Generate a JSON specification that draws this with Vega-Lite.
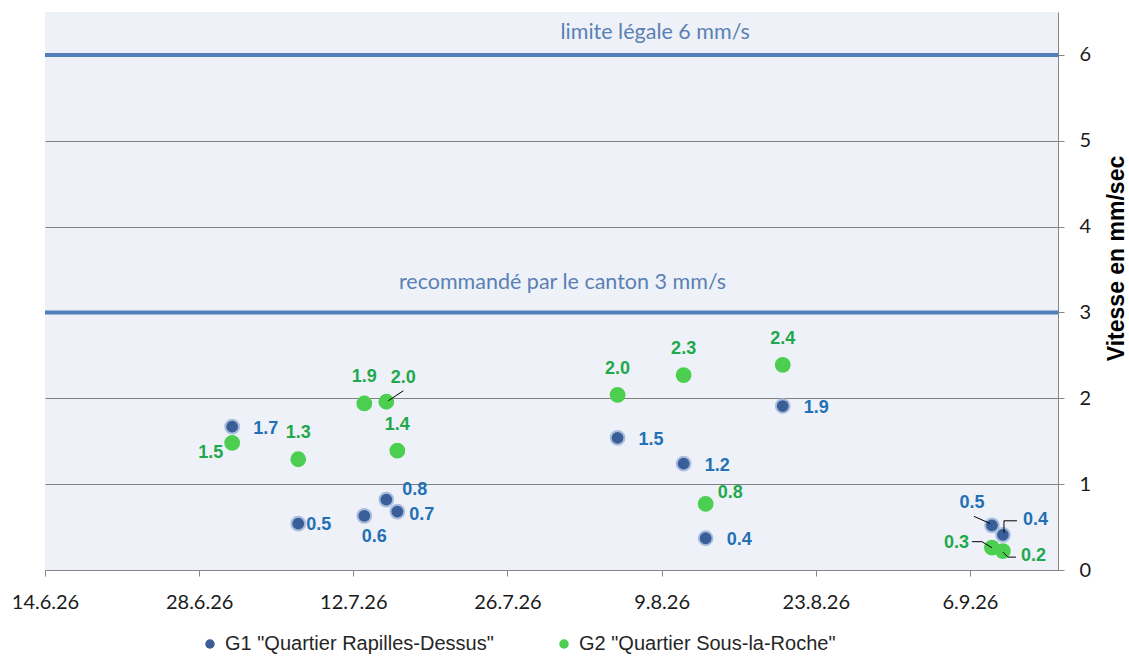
{
  "$schema": "https://vega.github.io/schema/vega-lite/v6.json",
  "width": 1013,
  "height": 558,
  "autosize": "none",
  "padding": {"left": 45, "top": 12, "right": 71, "bottom": 98},
  "background": "white",
  "config": {
    "view": {"fill": "#EEF2F8", "stroke": null},
    "axis": {"labelFont": "Lato", "labelFontSize": 20, "labelColor": "#1A1A1A", "domainColor": "#868686", "tickColor": "#868686"}
  },
  "datasets": {
    "points": [
      {"date": "2026-07-01", "series": "G1 \"Quartier Rapilles-Dessus\"", "g": "G1", "value": 1.67},
      {"date": "2026-07-07", "series": "G1 \"Quartier Rapilles-Dessus\"", "g": "G1", "value": 0.54},
      {"date": "2026-07-13", "series": "G1 \"Quartier Rapilles-Dessus\"", "g": "G1", "value": 0.63},
      {"date": "2026-07-15", "series": "G1 \"Quartier Rapilles-Dessus\"", "g": "G1", "value": 0.82},
      {"date": "2026-07-16", "series": "G1 \"Quartier Rapilles-Dessus\"", "g": "G1", "value": 0.68},
      {"date": "2026-08-05", "series": "G1 \"Quartier Rapilles-Dessus\"", "g": "G1", "value": 1.54},
      {"date": "2026-08-11", "series": "G1 \"Quartier Rapilles-Dessus\"", "g": "G1", "value": 1.24},
      {"date": "2026-08-13", "series": "G1 \"Quartier Rapilles-Dessus\"", "g": "G1", "value": 0.37},
      {"date": "2026-08-20", "series": "G1 \"Quartier Rapilles-Dessus\"", "g": "G1", "value": 1.91},
      {"date": "2026-09-08", "series": "G1 \"Quartier Rapilles-Dessus\"", "g": "G1", "value": 0.52},
      {"date": "2026-09-09", "series": "G1 \"Quartier Rapilles-Dessus\"", "g": "G1", "value": 0.41},
      {"date": "2026-07-01", "series": "G2 \"Quartier Sous-la-Roche\"", "g": "G2", "value": 1.48},
      {"date": "2026-07-07", "series": "G2 \"Quartier Sous-la-Roche\"", "g": "G2", "value": 1.29},
      {"date": "2026-07-13", "series": "G2 \"Quartier Sous-la-Roche\"", "g": "G2", "value": 1.94},
      {"date": "2026-07-15", "series": "G2 \"Quartier Sous-la-Roche\"", "g": "G2", "value": 1.96},
      {"date": "2026-07-16", "series": "G2 \"Quartier Sous-la-Roche\"", "g": "G2", "value": 1.39},
      {"date": "2026-08-05", "series": "G2 \"Quartier Sous-la-Roche\"", "g": "G2", "value": 2.04},
      {"date": "2026-08-11", "series": "G2 \"Quartier Sous-la-Roche\"", "g": "G2", "value": 2.27},
      {"date": "2026-08-13", "series": "G2 \"Quartier Sous-la-Roche\"", "g": "G2", "value": 0.77},
      {"date": "2026-08-20", "series": "G2 \"Quartier Sous-la-Roche\"", "g": "G2", "value": 2.39},
      {"date": "2026-09-08", "series": "G2 \"Quartier Sous-la-Roche\"", "g": "G2", "value": 0.26},
      {"date": "2026-09-09", "series": "G2 \"Quartier Sous-la-Roche\"", "g": "G2", "value": 0.22}
    ],
    "refs": [
      {"value": 6, "label": "limite légale 6 mm/s"},
      {"value": 3, "label": "recommandé par le canton 3 mm/s"}
    ]
  },
  "layer": [
    {
      "data": {"name": "refs"},
      "mark": {"type": "rule", "color": "#4F7FBC", "strokeWidth": 4},
      "encoding": {"y": {"field": "value", "type": "quantitative"}}
    },
    {
      "data": {"name": "refs"},
      "transform": [{"filter": "datum.value == 6"}],
      "mark": {"type": "text", "font": "Lato", "fontSize": 21.5, "color": "#5A80B4", "dy": -22},
      "encoding": {
        "x": {"datum": {"year": 2026, "month": 8, "date": 8, "hours": 10, "utc": true}, "type": "temporal"},
        "y": {"field": "value", "type": "quantitative"},
        "text": {"field": "label"}
      }
    },
    {
      "data": {"name": "refs"},
      "transform": [{"filter": "datum.value == 3"}],
      "mark": {"type": "text", "font": "Lato", "fontSize": 21.5, "color": "#5A80B4", "dy": -29},
      "encoding": {
        "x": {"datum": {"year": 2026, "month": 7, "date": 31, "utc": true}, "type": "temporal"},
        "y": {"field": "value", "type": "quantitative"},
        "text": {"field": "label"}
      }
    },
    {
      "data": {"name": "points"},
      "mark": {"type": "point", "shape": "circle", "filled": true, "opacity": 1, "size": 190, "strokeWidth": 2},
      "encoding": {
        "x": {
          "field": "date", "type": "temporal",
          "scale": {"type": "utc", "domain": [{"year": 2026, "month": 6, "date": 14, "utc": true}, {"year": 2026, "month": 9, "date": 14, "utc": true}]},
          "axis": {
            "title": null, "grid": false, "tickSize": 6, "labelPadding": 16, "labelFlush": false, "labelOverlap": false,
            "values": [
              {"year": 2026, "month": 6, "date": 14, "utc": true},
              {"year": 2026, "month": 6, "date": 28, "utc": true},
              {"year": 2026, "month": 7, "date": 12, "utc": true},
              {"year": 2026, "month": 7, "date": 26, "utc": true},
              {"year": 2026, "month": 8, "date": 9, "utc": true},
              {"year": 2026, "month": 8, "date": 23, "utc": true},
              {"year": 2026, "month": 9, "date": 6, "utc": true}
            ],
            "labelExpr": "utcFormat(datum.value, '%-d.%-m.%y')"
          }
        },
        "y": {
          "field": "value", "type": "quantitative",
          "scale": {"domain": [0, 6.5], "nice": false},
          "axis": {
            "orient": "right", "values": [0, 1, 2, 3, 4, 5, 6], "format": "d", "grid": true, "gridColor": "#808080", "gridWidth": 1,
            "tickSize": 6, "labelPadding": 15, "labelFlush": false,
            "title": "Vitesse en mm/sec", "titleFont": "Liberation Sans", "titleFontWeight": "bold", "titleFontSize": 23,
            "titleColor": "#000000", "titleAngle": 270, "titleX": 58, "titleY": 246, "titleAlign": "center", "titleBaseline": "middle"
          }
        },
        "fill": {
          "field": "series", "type": "nominal",
          "scale": {"domain": ["G1 \"Quartier Rapilles-Dessus\"", "G2 \"Quartier Sous-la-Roche\""], "range": ["#3A5E97", "#4CCF50"]},
          "legend": {
            "orient": "none", "legendX": 155, "legendY": 622, "direction": "horizontal", "title": null,
            "symbolType": "circle", "symbolSize": 90, "symbolStrokeWidth": 0, "labelLimit": 0,
            "labelFont": "Liberation Sans", "labelFontSize": 20, "labelColor": "#262626", "columnPadding": 60, "labelOffset": 5
          }
        },
        "stroke": {
          "field": "series", "type": "nominal",
          "scale": {"domain": ["G1 \"Quartier Rapilles-Dessus\"", "G2 \"Quartier Sous-la-Roche\""], "range": ["#A9BDDF", "#4CCF50"]},
          "legend": null
        }
      }
    },
    {
      "data": {"name": "points"},
      "transform": [{"filter": "datum.g == 'G1' && indexof(['2026-07-01','2026-08-05','2026-08-11','2026-08-13','2026-08-20'], utcFormat(toDate(datum.date), '%Y-%m-%d')) >= 0"}],
      "mark": {"type": "text", "align": "left", "baseline": "middle", "dx": 21, "dy": 2, "font": "Liberation Sans", "fontWeight": "bold", "fontSize": 18, "color": "#2370B5"},
      "encoding": {"x": {"field": "date", "type": "temporal"}, "y": {"field": "value", "type": "quantitative"}, "text": {"field": "value", "format": ".1f"}}
    },
    {
      "data": {"name": "points"},
      "transform": [{"filter": "datum.g == 'G1' && utcFormat(toDate(datum.date), '%Y-%m-%d') == '2026-07-07'"}],
      "mark": {"type": "text", "align": "left", "baseline": "middle", "dx": 8, "dy": 1, "font": "Liberation Sans", "fontWeight": "bold", "fontSize": 18, "color": "#2370B5"},
      "encoding": {"x": {"field": "date", "type": "temporal"}, "y": {"field": "value", "type": "quantitative"}, "text": {"field": "value", "format": ".1f"}}
    },
    {
      "data": {"name": "points"},
      "transform": [{"filter": "datum.g == 'G1' && utcFormat(toDate(datum.date), '%Y-%m-%d') == '2026-07-13'"}],
      "mark": {"type": "text", "align": "center", "baseline": "middle", "dx": 10, "dy": 21, "font": "Liberation Sans", "fontWeight": "bold", "fontSize": 18, "color": "#2370B5"},
      "encoding": {"x": {"field": "date", "type": "temporal"}, "y": {"field": "value", "type": "quantitative"}, "text": {"field": "value", "format": ".1f"}}
    },
    {
      "data": {"name": "points"},
      "transform": [{"filter": "datum.g == 'G1' && utcFormat(toDate(datum.date), '%Y-%m-%d') == '2026-07-15'"}],
      "mark": {"type": "text", "align": "left", "baseline": "middle", "dx": 16, "dy": -10, "font": "Liberation Sans", "fontWeight": "bold", "fontSize": 18, "color": "#2370B5"},
      "encoding": {"x": {"field": "date", "type": "temporal"}, "y": {"field": "value", "type": "quantitative"}, "text": {"field": "value", "format": ".1f"}}
    },
    {
      "data": {"name": "points"},
      "transform": [{"filter": "datum.g == 'G1' && utcFormat(toDate(datum.date), '%Y-%m-%d') == '2026-07-16'"}],
      "mark": {"type": "text", "align": "left", "baseline": "middle", "dx": 12, "dy": 3, "font": "Liberation Sans", "fontWeight": "bold", "fontSize": 18, "color": "#2370B5"},
      "encoding": {"x": {"field": "date", "type": "temporal"}, "y": {"field": "value", "type": "quantitative"}, "text": {"field": "value", "format": ".1f"}}
    },
    {
      "data": {"name": "points"},
      "transform": [{"filter": "datum.g == 'G1' && utcFormat(toDate(datum.date), '%Y-%m-%d') == '2026-09-08'"}],
      "mark": {"type": "text", "align": "center", "baseline": "middle", "dx": -20, "dy": -22, "font": "Liberation Sans", "fontWeight": "bold", "fontSize": 18, "color": "#2370B5"},
      "encoding": {"x": {"field": "date", "type": "temporal"}, "y": {"field": "value", "type": "quantitative"}, "text": {"field": "value", "format": ".1f"}}
    },
    {
      "data": {"name": "points"},
      "transform": [{"filter": "datum.g == 'G1' && utcFormat(toDate(datum.date), '%Y-%m-%d') == '2026-09-09'"}],
      "mark": {"type": "text", "align": "left", "baseline": "middle", "dx": 20, "dy": -15, "font": "Liberation Sans", "fontWeight": "bold", "fontSize": 18, "color": "#2370B5"},
      "encoding": {"x": {"field": "date", "type": "temporal"}, "y": {"field": "value", "type": "quantitative"}, "text": {"field": "value", "format": ".1f"}}
    },
    {
      "data": {"name": "points"},
      "transform": [{"filter": "datum.g == 'G2' && indexof(['2026-07-07','2026-07-13','2026-07-16','2026-08-05','2026-08-11','2026-08-20'], utcFormat(toDate(datum.date), '%Y-%m-%d')) >= 0"}],
      "mark": {"type": "text", "align": "center", "baseline": "middle", "dy": -26, "font": "Liberation Sans", "fontWeight": "bold", "fontSize": 18, "color": "#22A84C"},
      "encoding": {"x": {"field": "date", "type": "temporal"}, "y": {"field": "value", "type": "quantitative"}, "text": {"field": "value", "format": ".1f"}}
    },
    {
      "data": {"name": "points"},
      "transform": [{"filter": "datum.g == 'G2' && utcFormat(toDate(datum.date), '%Y-%m-%d') == '2026-07-01'"}],
      "mark": {"type": "text", "align": "right", "baseline": "middle", "dx": -9, "dy": 10, "font": "Liberation Sans", "fontWeight": "bold", "fontSize": 18, "color": "#22A84C"},
      "encoding": {"x": {"field": "date", "type": "temporal"}, "y": {"field": "value", "type": "quantitative"}, "text": {"field": "value", "format": ".1f"}}
    },
    {
      "data": {"name": "points"},
      "transform": [{"filter": "datum.g == 'G2' && utcFormat(toDate(datum.date), '%Y-%m-%d') == '2026-07-15'"}],
      "mark": {"type": "text", "align": "center", "baseline": "middle", "dx": 17, "dy": -24, "font": "Liberation Sans", "fontWeight": "bold", "fontSize": 18, "color": "#22A84C"},
      "encoding": {"x": {"field": "date", "type": "temporal"}, "y": {"field": "value", "type": "quantitative"}, "text": {"field": "value", "format": ".1f"}}
    },
    {
      "data": {"name": "points"},
      "transform": [{"filter": "datum.g == 'G2' && utcFormat(toDate(datum.date), '%Y-%m-%d') == '2026-08-13'"}],
      "mark": {"type": "text", "align": "left", "baseline": "middle", "dx": 12, "dy": -11, "font": "Liberation Sans", "fontWeight": "bold", "fontSize": 18, "color": "#22A84C"},
      "encoding": {"x": {"field": "date", "type": "temporal"}, "y": {"field": "value", "type": "quantitative"}, "text": {"field": "value", "format": ".1f"}}
    },
    {
      "data": {"name": "points"},
      "transform": [{"filter": "datum.g == 'G2' && utcFormat(toDate(datum.date), '%Y-%m-%d') == '2026-09-08'"}],
      "mark": {"type": "text", "align": "right", "baseline": "middle", "dx": -23, "dy": -5, "font": "Liberation Sans", "fontWeight": "bold", "fontSize": 18, "color": "#22A84C"},
      "encoding": {"x": {"field": "date", "type": "temporal"}, "y": {"field": "value", "type": "quantitative"}, "text": {"field": "value", "format": ".1f"}}
    },
    {
      "data": {"name": "points"},
      "transform": [{"filter": "datum.g == 'G2' && utcFormat(toDate(datum.date), '%Y-%m-%d') == '2026-09-09'"}],
      "mark": {"type": "text", "align": "left", "baseline": "middle", "dx": 18, "dy": 5, "font": "Liberation Sans", "fontWeight": "bold", "fontSize": 18, "color": "#22A84C"},
      "encoding": {"x": {"field": "date", "type": "temporal"}, "y": {"field": "value", "type": "quantitative"}, "text": {"field": "value", "format": ".1f"}}
    },
    {
      "data": {"name": "points"},
      "transform": [{"filter": "datum.g == 'G2' && utcFormat(toDate(datum.date), '%Y-%m-%d') == '2026-07-15'"}],
      "mark": {"type": "rule", "color": "#000000", "strokeWidth": 1, "xOffset": 2, "yOffset": -1, "x2Offset": 17, "y2Offset": -11},
      "encoding": {"x": {"field": "date", "type": "temporal"}, "x2": {"field": "date"}, "y": {"field": "value", "type": "quantitative"}, "y2": {"field": "value"}}
    },
    {
      "data": {"name": "points"},
      "transform": [{"filter": "datum.g == 'G1' && utcFormat(toDate(datum.date), '%Y-%m-%d') == '2026-09-08'"}],
      "mark": {"type": "rule", "color": "#000000", "strokeWidth": 1, "xOffset": -2, "yOffset": -2, "x2Offset": -18, "y2Offset": -9},
      "encoding": {"x": {"field": "date", "type": "temporal"}, "x2": {"field": "date"}, "y": {"field": "value", "type": "quantitative"}, "y2": {"field": "value"}}
    },
    {
      "data": {"name": "points"},
      "transform": [{"filter": "datum.g == 'G1' && utcFormat(toDate(datum.date), '%Y-%m-%d') == '2026-09-09'"}],
      "mark": {"type": "rule", "color": "#000000", "strokeWidth": 1, "xOffset": 1, "yOffset": -2, "x2Offset": 1, "y2Offset": -14},
      "encoding": {"x": {"field": "date", "type": "temporal"}, "x2": {"field": "date"}, "y": {"field": "value", "type": "quantitative"}, "y2": {"field": "value"}}
    },
    {
      "data": {"name": "points"},
      "transform": [{"filter": "datum.g == 'G1' && utcFormat(toDate(datum.date), '%Y-%m-%d') == '2026-09-09'"}],
      "mark": {"type": "rule", "color": "#000000", "strokeWidth": 1, "xOffset": 1, "yOffset": -14, "x2Offset": 14, "y2Offset": -14},
      "encoding": {"x": {"field": "date", "type": "temporal"}, "x2": {"field": "date"}, "y": {"field": "value", "type": "quantitative"}, "y2": {"field": "value"}}
    },
    {
      "data": {"name": "points"},
      "transform": [{"filter": "datum.g == 'G2' && utcFormat(toDate(datum.date), '%Y-%m-%d') == '2026-09-08'"}],
      "mark": {"type": "rule", "color": "#000000", "strokeWidth": 1, "xOffset": 0, "yOffset": 0, "x2Offset": -10, "y2Offset": -6},
      "encoding": {"x": {"field": "date", "type": "temporal"}, "x2": {"field": "date"}, "y": {"field": "value", "type": "quantitative"}, "y2": {"field": "value"}}
    },
    {
      "data": {"name": "points"},
      "transform": [{"filter": "datum.g == 'G2' && utcFormat(toDate(datum.date), '%Y-%m-%d') == '2026-09-08'"}],
      "mark": {"type": "rule", "color": "#000000", "strokeWidth": 1, "xOffset": -10, "yOffset": -6, "x2Offset": -20, "y2Offset": -6},
      "encoding": {"x": {"field": "date", "type": "temporal"}, "x2": {"field": "date"}, "y": {"field": "value", "type": "quantitative"}, "y2": {"field": "value"}}
    },
    {
      "data": {"name": "points"},
      "transform": [{"filter": "datum.g == 'G2' && utcFormat(toDate(datum.date), '%Y-%m-%d') == '2026-09-09'"}],
      "mark": {"type": "rule", "color": "#000000", "strokeWidth": 1, "xOffset": 0, "yOffset": 1, "x2Offset": 5, "y2Offset": 6},
      "encoding": {"x": {"field": "date", "type": "temporal"}, "x2": {"field": "date"}, "y": {"field": "value", "type": "quantitative"}, "y2": {"field": "value"}}
    },
    {
      "data": {"name": "points"},
      "transform": [{"filter": "datum.g == 'G2' && utcFormat(toDate(datum.date), '%Y-%m-%d') == '2026-09-09'"}],
      "mark": {"type": "rule", "color": "#000000", "strokeWidth": 1, "xOffset": 5, "yOffset": 6, "x2Offset": 13, "y2Offset": 6},
      "encoding": {"x": {"field": "date", "type": "temporal"}, "x2": {"field": "date"}, "y": {"field": "value", "type": "quantitative"}, "y2": {"field": "value"}}
    }
  ]
}
